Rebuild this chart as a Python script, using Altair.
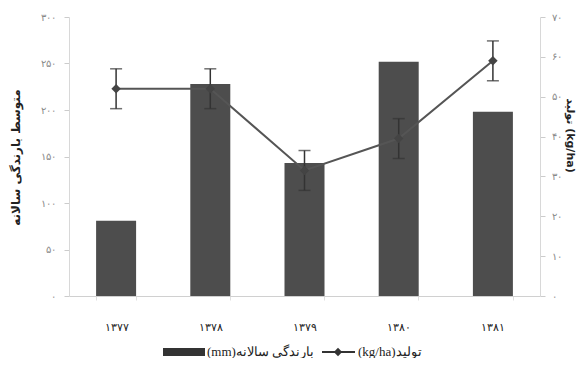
import altair as alt
import pandas as pd

years = ["۱۳۷۷", "۱۳۷۸", "۱۳۷۹", "۱۳۸۰", "۱۳۸۱"]
rain = [81, 228, 143, 252, 198]
yield_ = [52, 52, 31.5, 39.5, 59]
err = [5, 5, 5, 5, 5]

left_ticks = [0, 50, 100, 150, 200, 250, 300]
left_labels = ["۰", "۵۰", "۱۰۰", "۱۵۰", "۲۰۰", "۲۵۰", "۳۰۰"]
right_ticks = [0, 10, 20, 30, 40, 50, 60, 70]
right_labels = ["۰", "۱۰", "۲۰", "۳۰", "۴۰", "۵۰", "۶۰", "۷۰"]

left_title = "متوسط بارندگی سالانه"
right_title = "تولید (kg/ha)"
legend_rain = "(mm)بارندگی سالانه"
legend_yield = "(kg/ha)تولید"

FONT = "Liberation Serif"


def label_expr(ticks, labels):
    expr = "''"
    for t, l in reversed(list(zip(ticks, labels))):
        expr = f"datum.value == {t} ? '{l}' : ({expr})"
    return expr


df = pd.DataFrame({"year": years, "rain": rain, "yld": yield_, "err": err})
df["lo"] = df["yld"] - df["err"]
df["hi"] = df["yld"] + df["err"]

x = alt.X(
    "year:N",
    sort=years,
    scale=alt.Scale(paddingInner=0.58, paddingOuter=0.29),
    axis=alt.Axis(
        title=None, labelAngle=0, labelFontSize=11, labelColor="#222",
        labelPadding=21, labelFont=FONT, domainColor="#d0d0d0",
        tickBand="extent", tickColor="#e0e0e0", tickSize=4,
    ),
)

base = alt.Chart(df)

bars = base.mark_bar(color="#4d4d4d", size=40).encode(
    x=x,
    y=alt.Y(
        "rain:Q",
        scale=alt.Scale(domain=[0, 300], nice=False),
        axis=alt.Axis(
            values=left_ticks, labelExpr=label_expr(left_ticks, left_labels),
            labelOverlap=False,
            title=left_title, titleAngle=-90, titleX=-54, titleY=140,
            titleAlign="center", titleBaseline="middle",
            titleFontSize=12, titleFontWeight="bold", titleColor="#222",
            titleFont="DejaVu Sans",
            labelFontSize=10, labelColor="#888", labelPadding=9,
            tickSize=5, tickColor="#ccc", domainColor="#d8d8d8", grid=False,
        ),
    ),
)

yscale = alt.Scale(domain=[0, 70], nice=False)
yaxis = alt.Axis(
    orient="right", values=right_ticks,
    labelExpr=label_expr(right_ticks, right_labels),
    labelOverlap=False,
    title=right_title, titleAngle=90, titleX=29, titleY=118,
    titleAlign="center", titleBaseline="middle",
    titleFontSize=11, titleFontWeight="bold", titleColor="#222",
    titleFont="DejaVu Sans",
    labelFontSize=10, labelColor="#888", labelPadding=6,
    tickSize=5, tickColor="#ccc", domainColor="#d8d8d8", grid=False,
)

line = base.mark_line(color="#555", strokeWidth=2).encode(
    x=x, y=alt.Y("yld:Q", scale=yscale, axis=yaxis)
)
pts = base.mark_point(shape="diamond", filled=True, color="#444", size=90, opacity=1).encode(
    x=x, y=alt.Y("yld:Q", scale=yscale, axis=yaxis)
)
ebar = base.mark_rule(color="#333", strokeWidth=1.5).encode(
    x=x, y=alt.Y("lo:Q", scale=yscale, axis=yaxis), y2="hi:Q"
)
cap_lo = base.mark_tick(color="#333", thickness=1.5, size=12).encode(
    x=x, y=alt.Y("lo:Q", scale=yscale, axis=yaxis)
)
cap_hi = base.mark_tick(color="#333", thickness=1.5, size=12).encode(
    x=x, y=alt.Y("hi:Q", scale=yscale, axis=yaxis)
)

right = alt.layer(line, ebar, cap_lo, cap_hi, pts)

# legend
one = alt.Chart(pd.DataFrame({"k": [0]}))
leg_rect = one.mark_rect(color="#333").encode(
    x=alt.value(94), x2=alt.value(136), y=alt.value(331), y2=alt.value(339)
)
leg_t1 = one.mark_text(align="left", baseline="middle", fontSize=13, font=FONT, color="#222").encode(
    x=alt.value(138), y=alt.value(335), text=alt.value(legend_rain)
)
leg_line = one.mark_rule(color="#333", strokeWidth=2).encode(
    x=alt.value(253), x2=alt.value(286), y=alt.value(335)
)
leg_pt = one.mark_point(shape="diamond", filled=True, color="#333", size=70, opacity=1).encode(
    x=alt.value(269), y=alt.value(335)
)
leg_t2 = one.mark_text(align="left", baseline="middle", fontSize=13, font=FONT, color="#222").encode(
    x=alt.value(289), y=alt.value(335), text=alt.value(legend_yield)
)

chart = alt.layer(
    bars, right, leg_rect, leg_t1, leg_line, leg_pt, leg_t2
).resolve_scale(y="independent").properties(
    width=471, height=279,
    autosize=alt.AutoSizeParams(type="none"),
    padding={"left": 61, "top": 9, "right": 36, "bottom": 62},
).configure_view(stroke=None)

chart.save("out.html", embed_options={"renderer": "svg", "actions": False})
